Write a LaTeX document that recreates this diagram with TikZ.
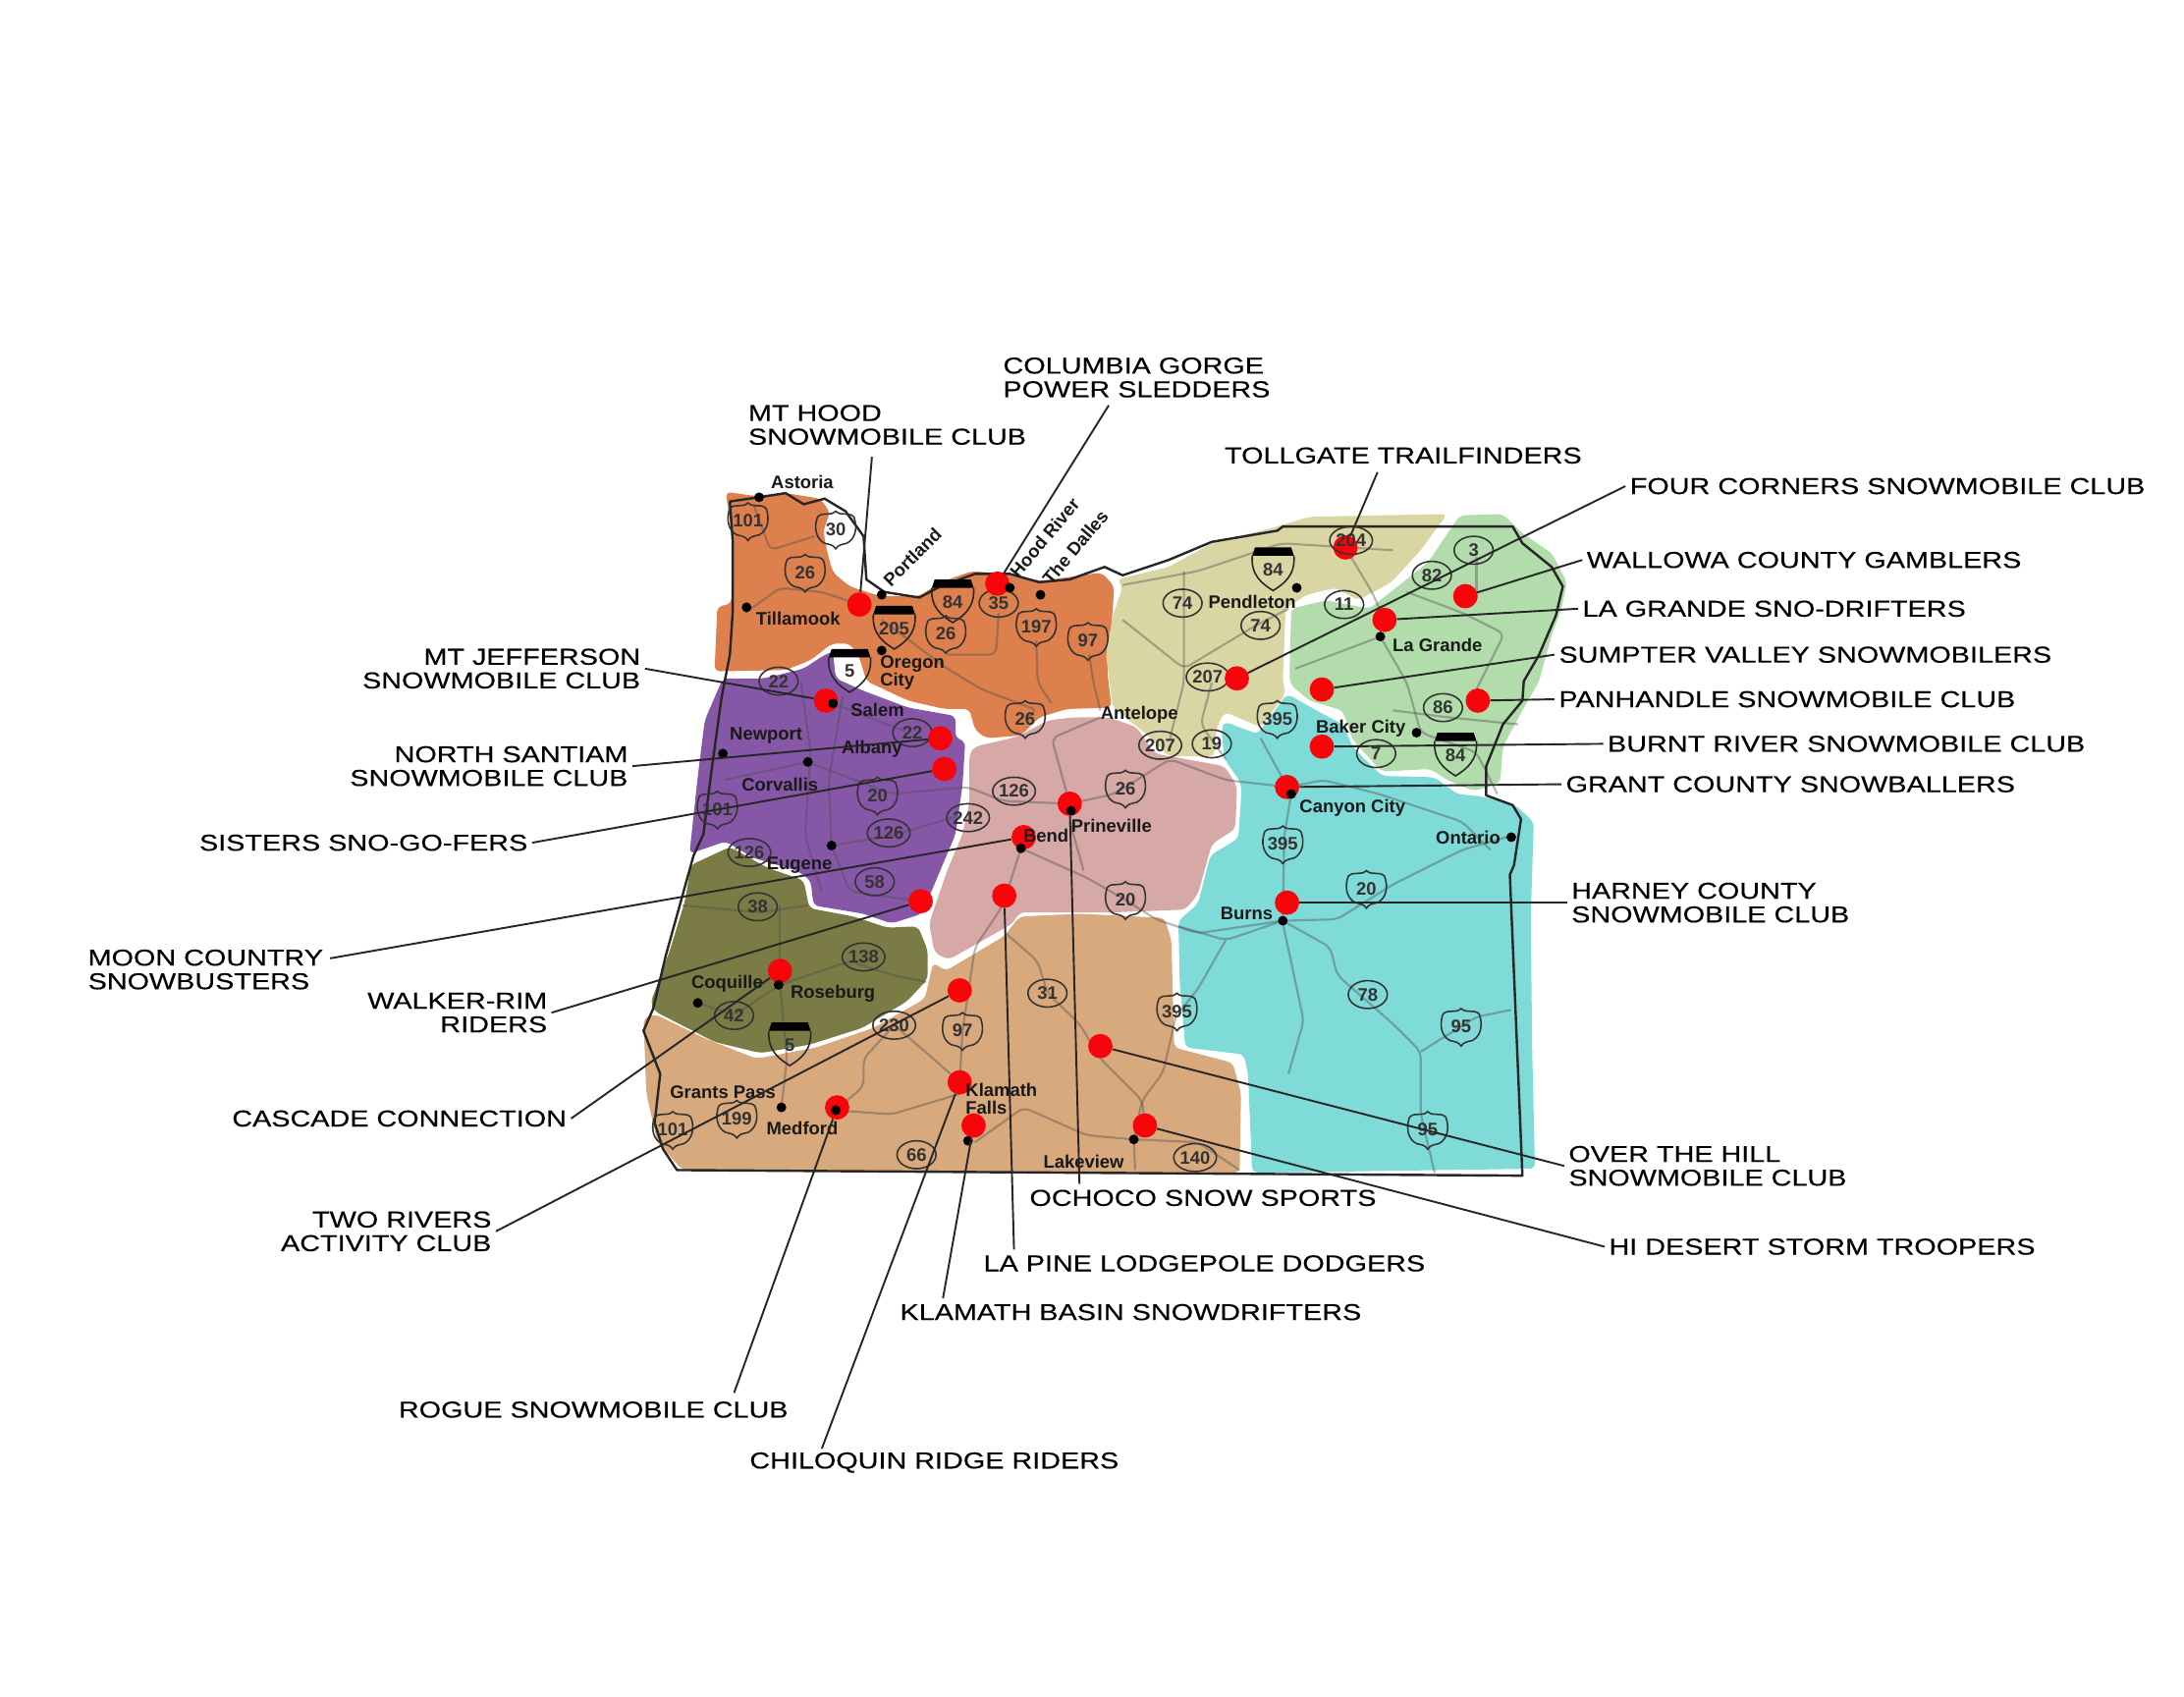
\documentclass[tikz,border=0pt]{standalone}
\usepackage{fontspec}
\usepackage{xcolor}
\usetikzlibrary{shapes.geometric}
\setmainfont{Liberation Sans}
\newfontfamily\clubfont[FakeStretch=1.23,FakeBold=0.35]{Liberation Sans}
\definecolor{orangereg}{HTML}{DD804E}
\definecolor{purplereg}{HTML}{8657A6}
\definecolor{olivereg}{HTML}{7B7B46}
\definecolor{tanreg}{HTML}{D8A97C}
\definecolor{pinkreg}{HTML}{D6A8A6}
\definecolor{beigereg}{HTML}{DAD6A4}
\definecolor{greenreg}{HTML}{B2DCAC}
\definecolor{tealreg}{HTML}{7FDBD8}
\definecolor{dotred}{HTML}{F8050C}
\tikzset{
  region/.style={rounded corners=4pt},
  road/.style={draw=black!70,opacity=.4,line width=1.5pt,rounded corners=5pt},
  stateline/.style={draw=black!85,line width=1.7pt,line join=round},
  leader/.style={draw=black!85,line width=1.35pt},
  club/.style={font=\clubfont\fontsize{16.5}{17}\selectfont,align=left,inner sep=3pt},
  clubr/.style={font=\clubfont\fontsize{16.5}{17}\selectfont,align=right,inner sep=3pt},
  redspot/.style={circle,fill=dotred,minimum size=17.5pt,inner sep=0pt},
  townspot/.style={circle,fill=black,minimum size=7pt,inner sep=0pt},
  town/.style={font=\bfseries\fontsize{13}{13}\selectfont,inner sep=0pt,text=black!90},
  hwytext/.style={font=\bfseries\fontsize{13}{13}\selectfont,inner sep=0pt,text=black!80},
  ovalhwy/.style={ellipse,draw=black!80,line width=1.1pt,minimum width=28pt,minimum height=20pt,inner sep=0pt,font=\bfseries\fontsize{13}{13}\selectfont,text=black!80},
  ushwy/.pic={
    \draw[draw=black!80,line width=1.1pt] (-13,-9) .. controls (-9,-13) and (-4,-9) .. (0,-13)
      .. controls (4,-9) and (9,-13) .. (13,-9) .. controls (16,-1) and (14,7) .. (8,10)
      .. controls (4,11) and (2,11) .. (0,14) .. controls (-2,11) and (-4,11) .. (-8,10)
      .. controls (-14,7) and (-16,-1) .. cycle;
    \node[hwytext] at (0,0) {#1};
  },
  ihwy/.pic={
    \fill[black] (-13,-14) -- (13,-14) -- (15,-8) -- (-15,-8) -- cycle;
    \draw[draw=black!85,line width=1.1pt] (-15,-8) .. controls (-16,6) and (-8,12) .. (0,17)
      .. controls (8,12) and (16,6) .. (15,-8);
    \node[hwytext] at (0,2) {#1};
  }
}
\begin{document}
\begin{tikzpicture}[x=1pt,y=-1pt]
\useasboundingbox (0,0) rectangle (1568,1218);
% regions
\fill[region,tanreg] (462,731)--(470,728)--(505,745)--(543,760)--(586,752)--(627,738)--(664,717)--(670,691)--(679,697)--(721,672)--(732,658)--(775,656)--(836,659)--(841,675)--(843,752)--(885,763)--(891,785)--(890,842)--(490,840)--(472,820)--(464,785)--cycle;
\fill[region,orangereg] (521,353)--(541,356)--(564,354)--(589,358)--(596,368)--(591,381)--(594,397)--(598,411)--(610,421)--(632,428)--(660,428)--(675,418)--(698,410)--(720,412)--(748,417)--(791,411)--(800,421)--(798,449)--(795,482)--(798,508)--(766,509)--(746,515)--(733,528)--(708,530)--(700,524)--(696,509)--(678,509)--(652,503)--(622,489)--(617,472)--(610,462)--(597,462)--(582,474)--(564,481)--(513,482)--(515,435)--(525,434)--(526,388)--cycle;
\fill[region,purplereg] (598,468)--(600,487)--(620,496)--(652,508)--(686,514)--(686,530)--(693,532)--(691,564)--(686,599)--(675,625)--(662,656)--(640,663)--(620,656)--(584,650)--(582,632)--(572,625)--(541,616)--(521,604)--(495,613)--(501,557)--(506,517)--(519,487)--(549,487)--(577,480)--(592,470)--cycle;
\fill[region,olivereg] (496,621)--(524,608)--(551,623)--(577,632)--(581,652)--(613,658)--(637,666)--(659,665)--(666,682)--(666,703)--(651,719)--(619,738)--(581,750)--(546,756)--(513,748)--(470,726)--(467,720)--(481,682)--(492,646)--cycle;
\fill[region,pinkreg] (700,536)--(730,529)--(753,517)--(771,515)--(796,515)--(816,522)--(829,541)--(879,550)--(888,564)--(887,595)--(870,606)--(860,642)--(851,653)--(799,655)--(732,655)--(727,663)--(681,689)--(671,684)--(667,663)--(680,625)--(691,599)--(696,576)--(696,541)--cycle;
\fill[region,beigereg] (802,416)--(839,407)--(870,390)--(917,378)--(940,371)--(1039,369)--(1020,395)--(999,418)--(975,431)--(959,422)--(938,427)--(923,437)--(921,489)--(923,498)--(905,522)--(879,511)--(873,524)--(872,543)--(839,543)--(823,527)--(799,508)--(794,470)--(799,442)--(806,421)--cycle;
\fill[region,greenreg] (1048,370)--(1079,369)--(1093,383)--(1114,397)--(1125,418)--(1121,437)--(1114,456)--(1105,489)--(1093,510)--(1079,536)--(1077,562)--(1058,568)--(1039,560)--(1027,552)--(992,554)--(971,531)--(964,510)--(940,503)--(926,491)--(926,477)--(927,437)--(952,431)--(983,437)--(1001,423)--(1025,404)--cycle;
\fill[region,tealreg] (879,518)--(903,527)--(924,498)--(945,510)--(964,520)--(971,536)--(992,557)--(1030,558)--(1046,570)--(1065,572)--(1088,578)--(1101,590)--(1101,595)--(1099,658)--(1100,752)--(1102,839)--(899,842)--(896,771)--(893,757)--(851,752)--(847,705)--(846,661)--(860,649)--(869,614)--(889,602)--(891,574)--(891,562)--(879,545)--(877,524)--cycle;
% roads
\draw[road] (617,434)--(590,425)--(560,422)--(535,440);
\draw[road] (541,362)--(553,395)--(585,385);
\draw[road] (633,445)--(680,480)--(705,495)--(745,510)--(736,516);
\draw[road] (717,440)--(715,470)--(680,470);
\draw[road] (782,470)--(785,490)--(790,510);
\draw[road] (744,460)--(745,490)--(755,505);
\draw[road] (575,490)--(582,540)--(578,600)--(590,640);
\draw[road] (605,500)--(595,560)--(597,607);
\draw[road] (520,560)--(580,547)--(640,570)--(695,565)--(720,575)--(768,577)--(800,570)--(840,545)--(880,560)--(925,565);
\draw[road] (597,607)--(640,600)--(690,585);
\draw[road] (597,607)--(610,640)--(661,647);
\draw[road] (598,505)--(650,525);
\draw[road] (733,609)--(780,630)--(808,646)--(830,660)--(860,670)--(921,661)--(960,660)--(1000,635)--(1050,610)--(1085,600);
\draw[road] (733,609)--(720,650)--(700,680)--(691,740)--(689,777);
\draw[road] (768,577)--(755,530)--(790,515);
\draw[road] (768,590)--(778,625);
\draw[road] (722,670)--(745,690)--(752,713)--(775,735)--(790,760)--(820,790)--(822,808);
\draw[road] (845,726)--(835,770)--(820,790)--(814,818)--(815,840);
\draw[road] (600,797)--(640,800)--(690,785);
\draw[road] (700,820)--(735,795)--(780,815)--(814,818)--(860,820)--(890,840);
\draw[road] (642,736)--(620,760)--(620,780)--(600,797);
\draw[road] (642,736)--(670,760)--(689,777);
\draw[road] (560,707)--(565,760)--(561,795);
\draw[road] (501,720)--(527,729)--(560,707);
\draw[road] (560,707)--(610,690)--(640,700)--(665,705);
\draw[road] (490,650)--(545,655)--(580,650);
\draw[road] (560,690)--(560,650);
\draw[road] (921,661)--(922,600)--(927,570)--(905,530);
\draw[road] (846,665)--(880,675)--(921,661);
\draw[road] (880,675)--(860,710)--(848,725);
\draw[road] (921,663)--(926,686)--(936,733)--(925,771);
\draw[road] (921,661)--(955,680)--(960,700)--(1000,735)--(1020,755)--(1020,800)--(1030,842);
\draw[road] (1020,755)--(1060,730)--(1085,725);
\draw[road] (925,565)--(950,560)--(990,570)--(1050,590)--(1070,610);
\draw[road] (806,420)--(860,410)--(920,390)--(1000,395);
\draw[road] (850,410)--(850,490)--(840,530);
\draw[road] (806,445)--(850,480)--(900,450)--(925,437);
\draw[road] (870,490)--(862,520)--(880,545);
\draw[road] (970,400)--(985,425)--(994,445);
\draw[road] (930,480)--(970,465)--(991,457)--(1010,490)--(1020,526)--(1060,540)--(1075,570);
\draw[road] (1010,425)--(1050,440)--(1080,455)--(1060,495);
\draw[road] (1060,400)--(1060,430);
\draw[road] (1000,510)--(1040,515)--(1090,520);
% state outline
\draw[stateline] (545,357)--(564,354)--(577,362)--(592,358)--(607,367)--(620,385)--(622,416)--(635,425)--(660,429)--(675,421)--(700,412)--(725,412)--(746,418)--(768,416)--(793,407)--(806,413)--(839,402)--(870,389)--(917,381)--(921,378)--(1086,378)--(1093,390)--(1114,407)--(1122,421)--(1117,442)--(1105,470)--(1094,489)--(1093,503)--(1079,520)--(1067,550)--(1067,571)--(1086,578)--(1092,588)--(1087,621)--(1084,628)--(1093,844)--(486,840)--(476,825)--(470,806)--(474,771)--(462,740)--(469,724)--(478,686)--(498,614)--(505,599)--(511,552)--(518,501)--(524,470)--(526,440)--(526,388)--(524,360)--cycle;
% highways
\pic (i84a) at (684,430) {ihwy=84};
\pic (i205) at (642,449) {ihwy=205};
\pic (i5a) at (610,480) {ihwy=5};
\pic (i84b) at (914,407) {ihwy=84};
\pic (i84c) at (1045,540) {ihwy=84};
\pic (i5b) at (567,748) {ihwy=5};
\pic (us101a) at (537,374) {ushwy=101};
\pic (us30) at (600,380) {ushwy=30};
\pic (us26a) at (578,411) {ushwy=26};
\pic (us26b) at (679,455) {ushwy=26};
\pic (us197) at (744,450) {ushwy=197};
\pic (us97a) at (781,460) {ushwy=97};
\pic (us26c) at (736,516) {ushwy=26};
\pic (us395a) at (917,516) {ushwy=395};
\pic (us395b) at (921,606) {ushwy=395};
\pic (us395c) at (845,726) {ushwy=395};
\pic (us20a) at (630,571) {ushwy=20};
\pic (us101b) at (515,581) {ushwy=101};
\pic (us26d) at (808,566) {ushwy=26};
\pic (us20b) at (808,646) {ushwy=20};
\pic (us20c) at (981,638) {ushwy=20};
\pic (us95a) at (1049,737) {ushwy=95};
\pic (us95b) at (1025,811) {ushwy=95};
\pic (us97b) at (691,740) {ushwy=97};
\pic (us199) at (529,803) {ushwy=199};
\pic (us101c) at (483,811) {ushwy=101};
\node[ovalhwy] (or35) at (717,433) {35};
\node[ovalhwy] (or22a) at (559,489) {22};
\node[ovalhwy] (or22b) at (655,526) {22};
\node[ovalhwy] (or126a) at (728,568) {126};
\node[ovalhwy] (or242) at (695,587) {242};
\node[ovalhwy] (or126b) at (638,598) {126};
\node[ovalhwy] (or126c) at (538,612) {126};
\node[ovalhwy] (or58) at (628,633) {58};
\node[ovalhwy] (or38) at (544,651) {38};
\node[ovalhwy] (or138) at (620,687) {138};
\node[ovalhwy] (or42) at (527,729) {42};
\node[ovalhwy] (or230) at (642,736) {230};
\node[ovalhwy] (or31) at (752,713) {31};
\node[ovalhwy] (or66) at (658,829) {66};
\node[ovalhwy] (or140) at (858,831) {140};
\node[ovalhwy] (or207a) at (833,535) {207};
\node[ovalhwy] (or19) at (870,534) {19};
\node[ovalhwy] (or207b) at (867,486) {207};
\node[ovalhwy] (or74a) at (849,433) {74};
\node[ovalhwy] (or74b) at (905,449) {74};
\node[ovalhwy] (or11) at (965,434) {11};
\node[ovalhwy] (or82) at (1028,413) {82};
\node[ovalhwy] (or3) at (1058,395) {3};
\node[ovalhwy] (or86) at (1036,508) {86};
\node[ovalhwy] (or7) at (988,541) {7};
\node[ovalhwy] (or78) at (982,714) {78};
% club spots
\node[redspot] (mthood) at (617,434) {};
\node[redspot] (gorge) at (716,419) {};
\node[redspot] (tollgate) at (966,393) {};
\node[redspot] (fourcorners) at (888,487) {};
\node[redspot] (wallowa) at (1052,428) {};
\node[redspot] (lagrande) at (994,445) {};
\node[redspot] (sumpter) at (949,495) {};
\node[redspot] (panhandle) at (1061,503) {};
\node[redspot] (burntriver) at (949,536) {};
\node[redspot] (grantco) at (924,565) {};
\node[redspot] (harney) at (924,648) {};
\node[redspot] (overhill) at (790,751) {};
\node[redspot] (hidesert) at (822,808) {};
\node[redspot] (ochoco) at (768,577) {};
\node[redspot] (lapine) at (721,643) {};
\node[redspot] (klamathbasin) at (699,808) {};
\node[redspot] (chiloquin) at (689,777) {};
\node[redspot] (rogue) at (601,795) {};
\node[redspot] (tworivers) at (689,711) {};
\node[redspot] (cascade) at (560,697) {};
\node[redspot] (walker) at (661,647) {};
\node[redspot] (moon) at (735,601) {};
\node[redspot] (sisters) at (678,552) {};
\node[redspot] (santiam) at (675,530) {};
\node[redspot] (jefferson) at (593,503) {};
\node[ovalhwy] (or204) at (970,388) {204};
% towns
\node[townspot] (astoriaspot) at (545,357) {};
\node[town] (astoria) at (576,346) {Astoria};
\node[townspot] (portlandspot) at (633,427) {};
\node[town,rotate=45] (portland) at (655,400) {Portland};
\node[townspot] (hoodspot) at (725,422) {};
\node[town,rotate=50] (hood) at (750,386) {Hood River};
\node[townspot] (dallesspot) at (747,427) {};
\node[town,rotate=50] (dalles) at (772,393) {The Dalles};
\node[townspot] (tillamookspot) at (536,436) {};
\node[town] (tillamook) at (573,444) {Tillamook};
\node[townspot] (oregonspot) at (633,467) {};
\node[town,align=left] (oregon) at (655,483) {Oregon\\City};
\node[townspot] (salemspot) at (598,505) {};
\node[town] (salem) at (630,510) {Salem};
\node[townspot] (newportspot) at (519,541) {};
\node[town] (newport) at (550,528) {Newport};
\node[town] (albany) at (626,538) {Albany};
\node[townspot] (corvallisspot) at (580,547) {};
\node[town] (corvallis) at (560,563) {Corvallis};
\node[townspot] (eugenespot) at (597,607) {};
\node[town] (eugene) at (574,621) {Eugene};
\node[town] (antelope) at (818,513) {Antelope};
\node[townspot] (pendletonspot) at (931,422) {};
\node[town] (pendleton) at (899,432) {Pendleton};
\node[townspot] (grandespot) at (991,457) {};
\node[town] (grande) at (1032,463) {La Grande};
\node[townspot] (bakerspot) at (1017,526) {};
\node[town] (baker) at (977,523) {Baker City};
\node[townspot] (canyonspot) at (927,570) {};
\node[town] (canyon) at (971,580) {Canyon City};
\node[townspot] (ontariospot) at (1085,601) {};
\node[town] (ontario) at (1054,601) {Ontario};
\node[townspot] (burnsspot) at (921,661) {};
\node[town] (burns) at (895,656) {Burns};
\node[townspot] (coquillespot) at (501,720) {};
\node[town] (coquille) at (522,706) {Coquille};
\node[townspot] (roseburgspot) at (559,707) {};
\node[town] (roseburg) at (598,713) {Roseburg};
\node[townspot] (grantsspot) at (561,795) {};
\node[town] (grants) at (519,784) {Grants Pass};
\node[townspot] (medfordspot) at (600,797) {};
\node[town] (medford) at (576,810) {Medford};
\node[townspot] (klamathspot) at (695,819) {};
\node[town,align=left] (klamath) at (719,789) {Klamath\\Falls};
\node[townspot] (bendspot) at (733,609) {};
\node[town] (bend) at (751,600) {Bend};
\node[townspot] (prinevillespot) at (769,582) {};
\node[town] (prineville) at (798,593) {Prineville};
\node[townspot] (lakeviewspot) at (814,818) {};
\node[town] (lakeview) at (778,834) {Lakeview};
% club labels
\node[club,anchor=west] (gorgelbl) at (717,271) {COLUMBIA GORGE\\POWER SLEDDERS};
\node[club,anchor=west] (mthoodlbl) at (534,305) {MT HOOD\\SNOWMOBILE CLUB};
\node[club,anchor=west] (tollgatelbl) at (876,327) {TOLLGATE TRAILFINDERS};
\node[club,anchor=west] (fourcornerslbl) at (1167,349) {FOUR CORNERS SNOWMOBILE CLUB};
\node[club,anchor=west] (wallowalbl) at (1136,402) {WALLOWA COUNTY GAMBLERS};
\node[club,anchor=west] (lagrandelbl) at (1133,437) {LA GRANDE SNO-DRIFTERS};
\node[club,anchor=west] (sumpterlbl) at (1116,470) {SUMPTER VALLEY SNOWMOBILERS};
\node[club,anchor=west] (panhandlelbl) at (1116,502) {PANHANDLE SNOWMOBILE CLUB};
\node[club,anchor=west] (burntriverlbl) at (1151,534) {BURNT RIVER SNOWMOBILE CLUB};
\node[club,anchor=west] (grantcolbl) at (1121,563) {GRANT COUNTY SNOWBALLERS};
\node[club,anchor=west] (harneylbl) at (1125,648) {HARNEY COUNTY\\SNOWMOBILE CLUB};
\node[club,anchor=west] (overhilllbl) at (1123,837) {OVER THE HILL\\SNOWMOBILE CLUB};
\node[club,anchor=west] (hidesertlbl) at (1152,895) {HI DESERT STORM TROOPERS};
\node[club,anchor=west] (ochocolbl) at (736,860) {OCHOCO SNOW SPORTS};
\node[club,anchor=west] (lapinelbl) at (703,907) {LA PINE LODGEPOLE DODGERS};
\node[club,anchor=west] (klamathbasinlbl) at (643,942) {KLAMATH BASIN SNOWDRIFTERS};
\node[club,anchor=west] (roguelbl) at (283,1012) {ROGUE SNOWMOBILE CLUB};
\node[club,anchor=west] (chiloquinlbl) at (535,1050) {CHILOQUIN RIDGE RIDERS};
\node[clubr,anchor=east] (tworiverslbl) at (356,884) {TWO RIVERS\\ACTIVITY CLUB};
\node[clubr,anchor=east] (cascadelbl) at (410,803) {CASCADE CONNECTION};
\node[clubr,anchor=east] (walkerlbl) at (396,727) {WALKER-RIM\\RIDERS};
\node[club,anchor=west] (moonlbl) at (60,696) {MOON COUNTRY\\SNOWBUSTERS};
\node[clubr,anchor=east] (sisterslbl) at (382,605) {SISTERS SNO-GO-FERS};
\node[clubr,anchor=east] (santiamlbl) at (454,550) {NORTH SANTIAM\\SNOWMOBILE CLUB};
\node[clubr,anchor=east] (jeffersonlbl) at (463,480) {MT JEFFERSON\\SNOWMOBILE CLUB};
% free ends of the leaders
\coordinate (gorgeend) at (796,291);
\coordinate (mthoodend) at (626,328);
\coordinate (tollgateend) at (989,339);
\coordinate (ochocoend) at (775,850);
\coordinate (lapineend) at (728,897);
\coordinate (klamathbasinend) at (677,932);
\coordinate (rogueend) at (527,1000);
\coordinate (chiloquinend) at (590,1040);
\coordinate (moonend) at (237,688);
% leaders
\draw[leader] (gorgeend) -- (gorge);
\draw[leader] (mthoodend) -- (mthood);
\draw[leader] (tollgateend) -- (tollgate);
\draw[leader] (fourcornerslbl.west) -- (fourcorners);
\draw[leader] (wallowalbl.west) -- (wallowa);
\draw[leader] (lagrandelbl.west) -- (lagrande);
\draw[leader] (sumpterlbl.west) -- (sumpter);
\draw[leader] (panhandlelbl.west) -- (panhandle);
\draw[leader] (burntriverlbl.west) -- (burntriver);
\draw[leader] (grantcolbl.west) -- (grantco);
\draw[leader] (harneylbl.west) -- (harney);
\draw[leader] (overhilllbl.west) -- (overhill);
\draw[leader] (hidesertlbl.west) -- (hidesert);
\draw[leader] (ochocoend) -- (ochoco);
\draw[leader] (lapineend) -- (lapine);
\draw[leader] (klamathbasinend) -- (klamathbasin);
\draw[leader] (rogueend) -- (rogue);
\draw[leader] (chiloquinend) -- (chiloquin);
\draw[leader] (tworiverslbl.east) -- (tworivers);
\draw[leader] (cascadelbl.east) -- (cascade);
\draw[leader] (walkerlbl.east) -- (walker);
\draw[leader] (moonend) -- (moon);
\draw[leader] (sisterslbl.east) -- (sisters);
\draw[leader] (santiamlbl.east) -- (santiam);
\draw[leader] (jeffersonlbl.east) -- (jefferson);
\end{tikzpicture}
\end{document}
